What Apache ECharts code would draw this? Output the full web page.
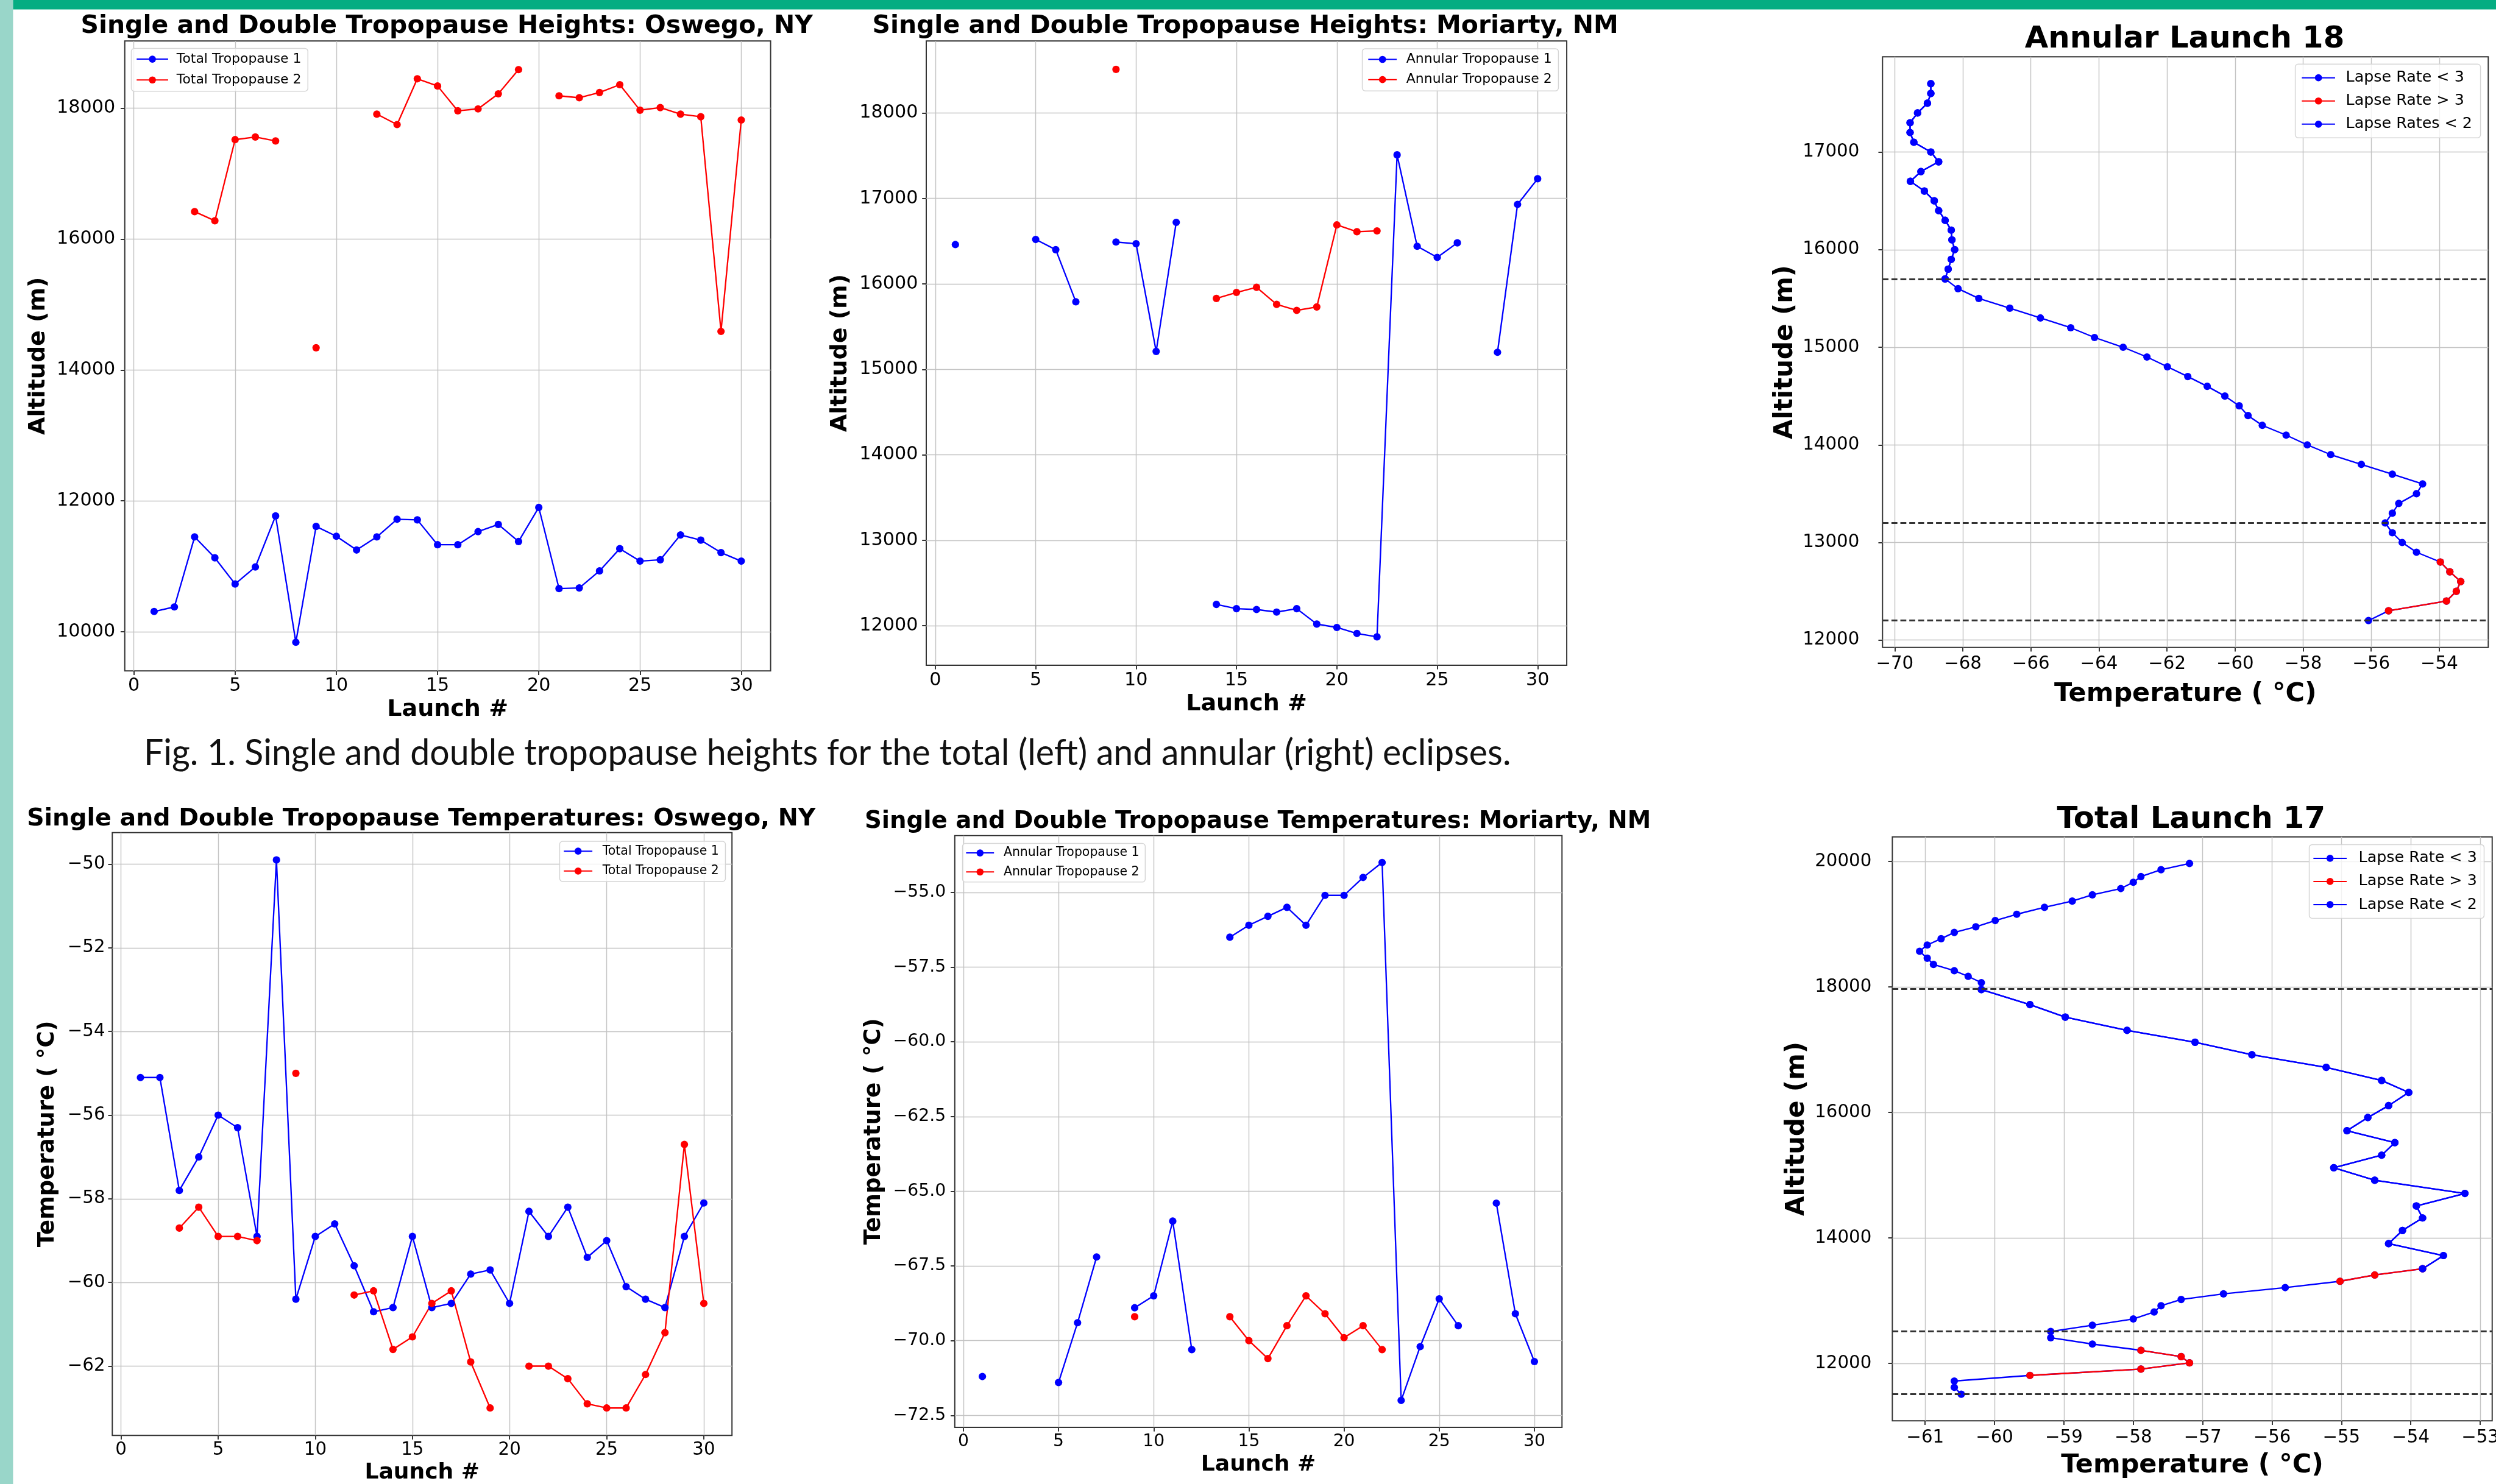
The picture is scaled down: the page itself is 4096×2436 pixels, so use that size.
<!DOCTYPE html>
<html>
<head>
<meta charset="utf-8">
<title>Tropopause heights and temperatures</title>
<script src="https://cdn.jsdelivr.net/npm/echarts@6/dist/echarts.min.js"></script>
<style>
html, body { margin: 0; padding: 0; background: #fff; }
#chart { width: 4096px; height: 2436px; }
</style>
</head>
<body>
<div id="chart"></div>
<script>
// values

const launches = [1, 2, 3, 4, 5, 6, 7, 8, 9, 10, 11, 12, 13, 14, 15, 16, 17, 18, 19, 20, 21, 22, 23, 24, 25, 26, 27, 28, 29, 30]

// Oswego, NY (total eclipse) tropopause heights (m)
const oswHeight1 = [10310, 10380, 11450, 11130, 10730, 10990, 11770, 9840, 11610, 11460, 11250, 11450, 11720, 11710, 11330, 11330, 11530, 11640, 11380, 11900, 10660, 10670, 10930, 11270, 11080, 11100, 11480, 11400, 11210, 11080]
const oswHeight2 = [null, null, 16420, 16280, 17520, 17560, 17500, null, 14340, null, null, 17910, 17750, 18450, 18340, 17960, 17990, 18220, 18590, null, 18190, 18160, 18240, 18360, 17970, 18010, 17910, 17870, 14590, 17820]

// Moriarty, NM (annular eclipse) tropopause heights (m)
const morHeight1 = [16460, null, null, null, 16520, 16400, 15790, null, 16490, 16470, 15210, 16720, null, 12250, 12200, 12190, 12160, 12200, 12020, 11980, 11910, 11870, 17510, 16440, 16310, 16480, null, 15200, 16930, 17230]
const morHeight2 = [null, null, null, null, null, null, null, null, 18510, null, null, null, null, 15830, 15900, 15960, 15760, 15690, 15730, 16690, 16610, 16620, null, null, null, null, null, null, null, null]

// Oswego, NY tropopause temperatures (C)
const oswTemp1 = [-55.1, -55.1, -57.8, -57.0, -56.0, -56.3, -58.9, -49.9, -60.4, -58.9, -58.6, -59.6, -60.7, -60.6, -58.9, -60.6, -60.5, -59.8, -59.7, -60.5, -58.3, -58.9, -58.2, -59.4, -59.0, -60.1, -60.4, -60.6, -58.9, -58.1]
const oswTemp2 = [null, null, -58.7, -58.2, -58.9, -58.9, -59.0, null, -55.0, null, null, -60.3, -60.2, -61.6, -61.3, -60.5, -60.2, -61.9, -63.0, null, -62.0, -62.0, -62.3, -62.9, -63.0, -63.0, -62.2, -61.2, -56.7, -60.5]

// Moriarty, NM tropopause temperatures (C)
const morTemp1 = [-71.2, null, null, null, -71.4, -69.4, -67.2, null, -68.9, -68.5, -66.0, -70.3, null, -56.5, -56.1, -55.8, -55.5, -56.1, -55.1, -55.1, -54.5, -54.0, -72.0, -70.2, -68.6, -69.5, null, -65.4, -69.1, -70.7]
const morTemp2 = [null, null, null, null, null, null, null, null, -69.2, null, null, null, null, -69.2, -70.0, -70.6, -69.5, -68.5, -69.1, -69.9, -69.5, -70.3, null, null, null, null, null, null, null, null]

// Annular launch 18 profile
const l18Alt = [17700, 17600, 17500, 17400, 17300, 17200, 17100, 17000, 16900, 16800, 16700, 16600, 16500, 16400, 16300, 16200, 16100, 16000, 15900, 15800, 15700, 15600, 15500, 15400, 15300, 15200, 15100, 15000, 14900, 14800, 14700, 14600, 14500, 14400, 14300, 14200, 14100, 14000, 13900, 13800, 13700, 13600, 13500, 13400, 13300, 13200, 13100, 13000, 12900, 12800, 12700, 12600, 12500, 12400, 12300, 12200]
const l18Temp = [-68.94, -68.94, -69.04, -69.33, -69.55, -69.55, -69.44, -68.94, -68.71, -69.23, -69.54, -69.13, -68.84, -68.71, -68.52, -68.34, -68.32, -68.24, -68.34, -68.43, -68.52, -68.14, -67.53, -66.62, -65.72, -64.83, -64.13, -63.29, -62.59, -61.99, -61.39, -60.82, -60.30, -59.88, -59.62, -59.20, -58.50, -57.88, -57.19, -56.29, -55.38, -54.49, -54.67, -55.19, -55.38, -55.59, -55.38, -55.09, -54.67, -53.97, -53.69, -53.37, -53.50, -53.79, -55.49, -56.08]
const l18RedIdx = [[49, 54]]
const l18Below2Idx = [[0, 20]]
const l18Tropopauses = [15700, 13200, 12200]

// Total launch 17 profile
const l17Alt = [19970, 19870, 19760, 19670, 19570, 19470, 19370, 19270, 19160, 19060, 18960, 18870, 18770, 18670, 18570, 18460, 18360, 18260, 18170, 18070, 17960, 17720, 17520, 17310, 17120, 16920, 16720, 16510, 16320, 16110, 15920, 15710, 15520, 15320, 15120, 14920, 14710, 14510, 14320, 14120, 13910, 13720, 13510, 13410, 13310, 13210, 13110, 13020, 12920, 12820, 12710, 12610, 12510, 12410, 12310, 12210, 12110, 12010, 11910, 11810, 11720, 11620, 11510]
const l17Temp = [-57.19, -57.60, -57.89, -58.00, -58.18, -58.59, -58.88, -59.28, -59.68, -59.99, -60.27, -60.58, -60.77, -60.97, -61.08, -60.97, -60.88, -60.58, -60.38, -60.19, -60.19, -59.49, -58.98, -58.09, -57.11, -56.29, -55.22, -54.42, -54.03, -54.32, -54.62, -54.92, -54.23, -54.42, -55.11, -54.52, -53.22, -53.92, -53.83, -54.12, -54.32, -53.53, -53.83, -54.52, -55.02, -55.81, -56.70, -57.31, -57.60, -57.70, -58.00, -58.59, -59.19, -59.19, -58.59, -57.89, -57.31, -57.19, -57.89, -59.49, -60.58, -60.58, -60.48]
const l17RedIdx = [[42, 44], [55, 59]]
const l17Below2Idx = [[20, 42]]
const l17Tropopauses = [17970, 12510, 11510]

// tick values
const launchTicks = [0, 5, 10, 15, 20, 25, 30]
const oswHeightTicks = [10000, 12000, 14000, 16000, 18000]
const morHeightTicks = [12000, 13000, 14000, 15000, 16000, 17000, 18000]
const l18TempTicks = [-70, -68, -66, -64, -62, -60, -58, -56, -54]
const l18AltTicks = [12000, 13000, 14000, 15000, 16000, 17000]
const oswTempTicks = [-62, -60, -58, -56, -54, -52, -50]
const morTempTicks = [-72.5, -70, -67.5, -65, -62.5, -60, -57.5, -55]
const l17TempTicks = [-61, -60, -59, -58, -57, -56, -55, -54, -53]
const l17AltTicks = [12000, 14000, 16000, 18000, 20000]

const caption = 'Fig. 1. Single and double tropopause heights for the total (left) and annular (right) eclipses.'

// ---- layout (reference pixels, scaled to the window) ----
const S = 0.975
const W = 4096
const px = v => +(v * S).toFixed(2)
const FONT = 'DejaVu Sans'

// matplotlib style 5% margins
function pad(...arrs) {
  const v = [].concat(...arrs).filter(x => x != null)
  const lo = Math.min(...v), hi = Math.max(...v)
  const m = (hi - lo) * 0.05
  return [lo - m, hi + m]
}

const minusFmt = v => String(v).replace('-', '\u2212')
const oneDecFmt = v => v.toFixed(1).replace('-', '\u2212')

function makeGrid(L, T, R, B) {
  return {
    left: px(L), top: px(T), width: px(R - L), height: px(B - T),
    show: true, borderColor: '#333', borderWidth: px(2), backgroundColor: '#fff',
    containLabel: false, outerBoundsMode: 'none'
  }
}

function makeAxis(grid, range, ticks, o) {
  return {
    type: 'value', gridIndex: grid, min: range[0], max: range[1],
    axisLine: { show: false, onZero: false },
    axisTick: { show: true, inside: false, length: px(7), customValues: ticks, lineStyle: { color: '#333', width: px(2) } },
    axisLabel: { customValues: ticks, margin: px(o.margin), fontSize: px(o.size), color: '#000', fontFamily: FONT, formatter: o.fmt || minusFmt },
    splitLine: { show: true, lineStyle: { color: '#c4c4c4', width: px(1.5) } },
    name: o.name, nameLocation: 'middle', nameGap: px(o.gap),
    nameTextStyle: { fontSize: px(o.nameSize), fontWeight: 'bold', color: '#000', fontFamily: FONT }
  }
}

function makeLegend(names, o) {
  const lg = {
    data: names, orient: 'vertical', top: px(o.top),
    itemWidth: px(o.handle), itemHeight: px(15), itemGap: px(o.gap),
    padding: o.padding.map(px),
    backgroundColor: 'rgba(255,255,255,0.8)', borderColor: '#d5d5d5', borderWidth: px(1.5), borderRadius: px(5),
    selectedMode: false,
    textStyle: { fontSize: px(o.size), lineHeight: px(o.lh), color: '#000', fontFamily: FONT, padding: [0, 0, 0, px(o.textPad)] }
  }
  if (o.left != null) lg.left = px(o.left)
  else lg.right = +(W - px(o.rightEdge)).toFixed(2)
  return lg
}

function lineSeries(name, grid, data, color, extra) {
  return Object.assign({
    type: 'line', name, xAxisIndex: grid, yAxisIndex: grid, data,
    symbol: 'circle', symbolSize: px(12.5), showSymbol: true, connectNulls: false,
    lineStyle: { color, width: px(2.4) }, itemStyle: { color },
    emphasis: { disabled: true }, animation: false
  }, extra || {})
}

const launchPts = vals => launches.map((l, i) => [l, vals[i] == null ? '-' : vals[i]])
const inRanges = (i, ranges) => ranges.some(r => i >= r[0] && i <= r[1])
const profilePts = (temps, alts, ranges) =>
  alts.map((a, i) => (!ranges || inRanges(i, ranges)) ? [temps[i], a] : ['-', '-'])

function tropLines(values) {
  return {
    silent: true, symbol: 'none', label: { show: false },
    lineStyle: { type: [px(10), px(5)], color: '#333', width: px(3) },
    data: values.map(v => ({ yAxis: v }))
  }
}

const launchRange = pad(launches)

const chart = echarts.init(document.getElementById('chart'))

// caption: narrow font look by measuring then squeezing
const ctx = document.createElement('canvas').getContext('2d')
ctx.font = px(61) + 'px Lato'
const capScale = px(2301) / ctx.measureText(caption).width

const titles = [
  ['Single and Double Tropopause Heights: Oswego, NY', 752, 44.5, 42],
  ['Single and Double Tropopause Heights: Moriarty, NM', 2096, 44.5, 42],
  ['Annular Launch 18', 3677, 66.7, 51],
  ['Single and Double Tropopause Temperatures: Oswego, NY', 709, 1379.5, 40.5],
  ['Single and Double Tropopause Temperatures: Moriarty, NM', 2117, 1384, 39.7],
  ['Total Launch 17', 3688, 1381, 51]
]

const option = {
  animation: false,
  backgroundColor: '#fff',
  textStyle: { fontFamily: FONT },
  graphic: [
    { type: 'rect', silent: true, z: 50, shape: { x: 0, y: 0, width: px(22), height: 2436 }, style: { fill: '#99d6c9' } },
    { type: 'rect', silent: true, z: 50, shape: { x: px(22), y: 0, width: W, height: px(16) }, style: { fill: '#05ad82' } },
    {
      type: 'text', silent: true, z: 50, x: px(242), y: px(1269), scaleX: capScale,
      style: { text: caption, fontSize: px(61), fontFamily: 'Lato', fill: '#111', align: 'left', verticalAlign: 'middle' }
    }
  ].concat(titles.map(t => ({
    type: 'text', silent: true, z: 50, x: px(t[1]), y: px(t[2]),
    style: { text: t[0], fontSize: px(t[3]), fontWeight: 'bold', fontFamily: FONT, fill: '#000', align: 'center', verticalAlign: 'middle' }
  }))),
  grid: [
    makeGrid(210, 69, 1297, 1129.5),
    makeGrid(1559, 69, 2637, 1120),
    makeGrid(3168.5, 95.7, 4188, 1090),
    makeGrid(189, 1401.7, 1232, 2416.6),
    makeGrid(1607, 1406.8, 2629, 2403),
    makeGrid(3185, 1409, 4194.6, 2392)
  ],
  xAxis: [
    makeAxis(0, launchRange, launchTicks, { margin: 10, size: 31, name: 'Launch #', nameSize: 39, gap: 46 }),
    makeAxis(1, launchRange, launchTicks, { margin: 10, size: 31, name: 'Launch #', nameSize: 39, gap: 46 }),
    makeAxis(2, pad(l18Temp), l18TempTicks, { margin: 13, size: 30, name: 'Temperature ( \u00b0C)', nameSize: 44, gap: 57 }),
    makeAxis(3, launchRange, launchTicks, { margin: 10, size: 30, name: 'Launch #', nameSize: 37, gap: 45 }),
    makeAxis(4, launchRange, launchTicks, { margin: 9.5, size: 29, name: 'Launch #', nameSize: 37, gap: 45 }),
    makeAxis(5, pad(l17Temp), l17TempTicks, { margin: 14, size: 30, name: 'Temperature ( \u00b0C)', nameSize: 44, gap: 53 })
  ],
  yAxis: [
    makeAxis(0, pad(oswHeight1, oswHeight2), oswHeightTicks, { margin: 16, size: 31, name: 'Altitude (m)', nameSize: 39, gap: 126 }),
    makeAxis(1, pad(morHeight1, morHeight2), morHeightTicks, { margin: 14, size: 31, name: 'Altitude (m)', nameSize: 39, gap: 125 }),
    makeAxis(2, pad(l18Alt), l18AltTicks, { margin: 39, size: 30, name: 'Altitude (m)', nameSize: 43, gap: 142 }),
    makeAxis(3, pad(oswTemp1, oswTemp2), oswTempTicks, { margin: 12, size: 30, name: 'Temperature ( \u00b0C)', nameSize: 38, gap: 90 }),
    makeAxis(4, pad(morTemp1, morTemp2), morTempTicks, { margin: 15, size: 29, name: 'Temperature ( \u00b0C)', nameSize: 38, gap: 117, fmt: oneDecFmt }),
    makeAxis(5, pad(l17Alt), l17AltTicks, { margin: 35, size: 30, name: 'Altitude (m)', nameSize: 43, gap: 139 })
  ],
  legend: [
    makeLegend(['Total Tropopause 1', 'Total Tropopause 2'], { left: 221, top: 81.6, handle: 53, gap: 9, size: 22.5, lh: 26, textPad: 9, padding: [5, 11, 6, 8] }),
    makeLegend(['Annular Tropopause 1', 'Annular Tropopause 2'], { rightEdge: 2623, top: 82, handle: 48, gap: 8, size: 22.5, lh: 26, textPad: 11, padding: [5, 11, 6, 9] }),
    makeLegend(['Lapse Rate < 3', 'Lapse Rate > 3', 'Lapse Rates < 2'], { rightEdge: 4175, top: 108, handle: 56, gap: 9, size: 26, lh: 30, textPad: 13, padding: [8, 14, 8, 10] }),
    makeLegend(['Total Tropopause 1', 'Total Tropopause 2'], { rightEdge: 1221, top: 1416.5, handle: 48, gap: 8.5, size: 21, lh: 25, textPad: 12, padding: [4, 11, 5, 6] }),
    makeLegend(['Annular Tropopause 1', 'Annular Tropopause 2'], { left: 1620, top: 1420, handle: 47, gap: 8, size: 21, lh: 24, textPad: 11, padding: [4, 10, 5, 5] }),
    makeLegend(['Lapse Rate < 3', 'Lapse Rate > 3', 'Lapse Rate < 2'], { rightEdge: 4181, top: 1422, handle: 56, gap: 9, size: 26, lh: 30, textPad: 15, padding: [8, 12, 8, 6] })
  ],
  series: [
    lineSeries('Total Tropopause 1', 0, launchPts(oswHeight1), 'blue'),
    lineSeries('Total Tropopause 2', 0, launchPts(oswHeight2), 'red'),
    lineSeries('Annular Tropopause 1', 1, launchPts(morHeight1), 'blue'),
    lineSeries('Annular Tropopause 2', 1, launchPts(morHeight2), 'red'),
    lineSeries('Lapse Rate < 3', 2, profilePts(l18Temp, l18Alt), 'blue', { markLine: tropLines(l18Tropopauses) }),
    lineSeries('Lapse Rate > 3', 2, profilePts(l18Temp, l18Alt, l18RedIdx), 'red'),
    lineSeries('Lapse Rates < 2', 2, profilePts(l18Temp, l18Alt, l18Below2Idx), 'blue'),
    lineSeries('Total Tropopause 1', 3, launchPts(oswTemp1), 'blue'),
    lineSeries('Total Tropopause 2', 3, launchPts(oswTemp2), 'red'),
    lineSeries('Annular Tropopause 1', 4, launchPts(morTemp1), 'blue'),
    lineSeries('Annular Tropopause 2', 4, launchPts(morTemp2), 'red'),
    lineSeries('Lapse Rate < 3', 5, profilePts(l17Temp, l17Alt), 'blue', { markLine: tropLines(l17Tropopauses) }),
    lineSeries('Lapse Rate > 3', 5, profilePts(l17Temp, l17Alt, l17RedIdx), 'red'),
    lineSeries('Lapse Rate < 2', 5, profilePts(l17Temp, l17Alt, l17Below2Idx), 'blue')
  ]
}

chart.setOption(option)
</script>
</body>
</html>
